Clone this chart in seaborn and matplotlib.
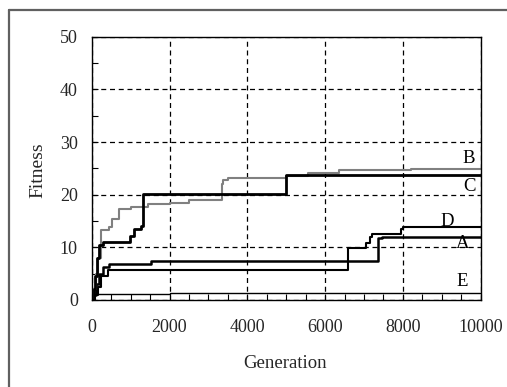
import numpy as np
import pandas as pd
import matplotlib
matplotlib.use("Agg")
import matplotlib.pyplot as plt
from matplotlib.ticker import MultipleLocator
from matplotlib.lines import Line2D
import seaborn as sns

# ---- data ----
gen_B = [0, 60, 120, 170, 250, 450, 530, 700, 1000, 1450, 2000, 2500, 3350, 3380, 3500, 5000, 5550, 6350, 8200, 10000]
fit_B = [0, 2, 5, 8, 13.3, 13.9, 15.3, 17.2, 17.6, 18.2, 18.5, 19.0, 22.0, 22.7, 23.1, 23.5, 24.2, 24.7, 24.9, 24.9]

gen_C = [0, 50, 80, 140, 200, 300, 980, 1100, 1280, 1330, 5000, 10000]
fit_C = [0, 2, 4.5, 8, 10.5, 11, 12.2, 13.4, 14, 20.2, 23.7, 23.7]

gen_A = [0, 60, 120, 200, 300, 450, 1530, 7370, 7450, 10000]
fit_A = [0, 1, 3, 5, 6.3, 6.8, 7.5, 11.7, 12.0, 12.0]

gen_D = [0, 80, 150, 250, 420, 6600, 7050, 7150, 7200, 7950, 8000, 10000]
fit_D = [0, 1, 2.5, 4.5, 5.7, 9.9, 10.8, 12.0, 12.5, 13.4, 13.8, 13.8]

gen_E = [0, 70, 2000, 10000]
fit_E = [0, 1.15, 1.4, 1.4]

labels = ["B", "C", "D", "A", "E"]
label_x = [9700, 9700, 9130, 9530, 9530]
label_y = [26.9, 21.5, 15.0, 10.75, 3.6]

x_ticks = [0, 2000, 4000, 6000, 8000, 10000]
y_ticks = [0, 10, 20, 30, 40, 50]

sns.set_style("white")
plt.rcParams['font.family'] = ['Liberation Serif', 'DejaVu Serif']

fig = plt.figure(figsize=(5.07, 3.87), dpi=100)
ax = fig.add_axes([91.7/507, 1-300/387, (480.7-91.7)/507, (300-36.7)/387])

series = [
    (gen_E, fit_E, "black", 1.0),
    (gen_D, fit_D, "black", 1.5),
    (gen_A, fit_A, "black", 1.8),
    (gen_B, fit_B, "#808080", 1.5),
    (gen_C, fit_C, "black", 2.0),
]
for g, f, c, lw in series:
    df = pd.DataFrame({"Generation": g, "Fitness": f})
    sns.lineplot(data=df, x="Generation", y="Fitness", ax=ax, color=c,
                 linewidth=lw, drawstyle="steps-post", estimator=None, sort=False)

ax.set_xlim(0, 10000)
ax.set_ylim(0, 50)
ax.set_xticks(x_ticks)
ax.set_yticks(y_ticks)
ax.set_xticklabels([str(t) for t in x_ticks])
ax.set_yticklabels([str(t) for t in y_ticks])
ax.xaxis.set_minor_locator(MultipleLocator(500))
ax.yaxis.set_minor_locator(MultipleLocator(5))
ax.tick_params(which="both", direction="in", length=4, width=0.8, color="black",
               bottom=True, left=True, top=False, right=False, labelsize=13)
ax.tick_params(axis="x", pad=14)
ax.tick_params(axis="y", pad=10)
ax.grid(True, which="major", color="black", linestyle=(0, (4, 3)), linewidth=0.9)
ax.set_axisbelow(True)
for s in ax.spines.values():
    s.set_color("black")
    s.set_linewidth(1.0)

ax.set_xlabel("Generation", fontsize=13.5)
ax.set_ylabel("Fitness", fontsize=14)
ax.xaxis.set_label_coords((285 - 91.7) / 389.0, (300 - 363) / 263.3)
ax.yaxis.set_label_coords((38 - 91.7) / 389.0, (300 - 170) / 263.3)
ax.xaxis.label.set_va("center")
ax.yaxis.label.set_va("center")

for t, x, y in zip(labels, label_x, label_y):
    ax.text(x, y, t, fontsize=13.5, ha="center", va="center", color="black")

# outer frame lines (top and left)
fig.add_artist(Line2D([9/507, 1.0], [1-10/387, 1-10/387], transform=fig.transFigure,
                      color="#606060", linewidth=1.6))
fig.add_artist(Line2D([9/507, 9/507], [0, 1-10/387], transform=fig.transFigure,
                      color="#606060", linewidth=1.6))

fig.savefig("out.png", dpi=100)
